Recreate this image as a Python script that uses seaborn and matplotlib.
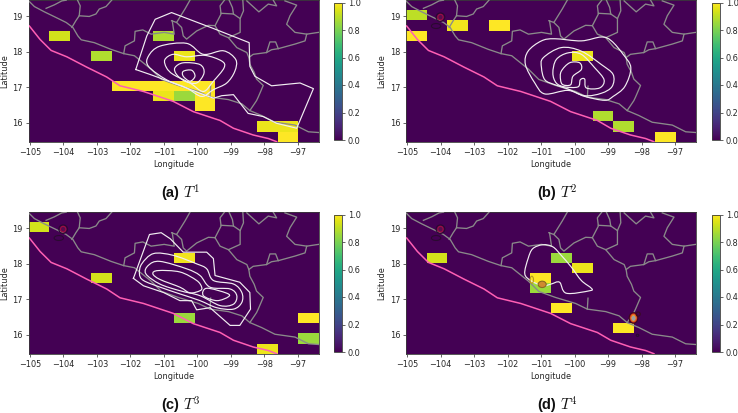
import numpy as np
import matplotlib
matplotlib.use("Agg")
import matplotlib.pyplot as plt
from matplotlib.patches import Ellipse, PathPatch
from matplotlib.path import Path
import seaborn as sns

plt.rcParams["mathtext.fontset"] = "cm"

# Regular model grid over the study area
LON0, DLON = -105.04, 0.62
LAT0, DLAT = 15.46, 0.2857
NCOL, NROW = 14, 14

# Occupied grid cells per period: (column, row, value)
cells_t1 = [(1, 10, .93), (3, 8, .88), (6, 10, .88), (7, 8, .97),
            (4, 5, 1), (5, 5, 1), (6, 5, 1), (7, 5, 1), (8, 5, 1),
            (6, 4, .97), (7, 4, .85), (8, 4, 1), (8, 3, 1),
            (11, 1, .97), (12, 1, .97), (12, 0, 1)]
cells_t2 = [(0, 12, .9), (0, 10, 1), (2, 11, .98), (4, 11, 1), (8, 8, .97),
            (9, 2, .88), (10, 1, .88), (12, 0, 1)]
cells_t3 = [(0, 12, .93), (3, 7, .93), (7, 9, .98), (7, 3, .85),
            (11, 0, .97), (13, 3, 1), (13, 1, .85)]
cells_t4 = [(1, 9, .93), (7, 9, .85), (8, 8, .97), (6, 7, 1), (6, 6, .85),
            (7, 4, 1), (10, 2, 1)]

# Subduction trench
trench = [(-105.02, 18.73), (-104.70, 18.35), (-104.37, 18.04), (-103.90, 17.86),
          (-103.31, 17.57), (-102.71, 17.29), (-102.31, 17.04), (-101.61, 16.88),
          (-100.72, 16.60), (-100.12, 16.31), (-99.32, 16.06), (-98.92, 15.84),
          (-98.33, 15.65), (-97.88, 15.55), (-97.63, 15.46)]

# Coastline and state borders
borders = [
    [(-105.04, 19.44), (-104.87, 19.28), (-104.57, 19.13), (-104.22, 18.97), (-103.92, 18.83),
     (-103.72, 18.69), (-103.57, 18.45), (-103.47, 18.34), (-103.08, 18.26), (-102.58, 18.07),
     (-102.20, 17.95), (-101.88, 17.89), (-101.63, 17.70), (-101.38, 17.51), (-101.23, 17.37),
     (-101.07, 17.22), (-100.57, 17.05), (-99.97, 16.88), (-99.62, 16.72), (-99.07, 16.65),
     (-98.67, 16.53), (-98.43, 16.34), (-98.08, 16.20), (-97.68, 16.01), (-97.08, 15.93),
     (-96.68, 15.74), (-96.38, 15.72)],
    [(-104.52, 19.23), (-104.27, 19.33), (-104.05, 19.44), (-103.92, 19.46)],
    [(-103.58, 19.46), (-103.50, 19.30), (-103.53, 19.02), (-103.63, 18.88), (-103.75, 18.69)],
    [(-103.53, 19.02), (-103.23, 19.0), (-103.03, 19.07), (-102.93, 19.21), (-102.73, 19.28),
     (-102.56, 19.46)],
    [(-102.20, 17.95), (-102.16, 18.17), (-101.88, 18.31), (-101.86, 18.58), (-101.63, 18.62),
     (-101.38, 18.50), (-100.99, 18.55), (-100.69, 18.50), (-100.75, 18.88)],
    [(-100.77, 18.88), (-100.62, 18.83), (-100.37, 19.21), (-100.22, 19.46)],
    [(-100.62, 18.83), (-100.47, 18.69), (-100.42, 18.45), (-100.32, 18.36), (-100.02, 18.59),
     (-99.67, 18.75), (-99.47, 18.74)],
    [(-99.47, 18.74), (-99.29, 19.07), (-99.32, 19.30), (-99.19, 19.46)],
    [(-99.29, 19.09), (-98.92, 19.07), (-98.72, 18.94), (-98.62, 19.16), (-98.64, 19.46)],
    [(-99.05, 19.46), (-98.95, 19.25), (-98.92, 19.07)],
    [(-99.47, 18.74), (-99.32, 18.50), (-99.07, 18.40), (-98.72, 18.55), (-98.72, 18.94)],
    [(-99.07, 18.40), (-98.82, 18.12), (-98.52, 17.98), (-98.46, 17.84), (-98.43, 17.65),
     (-98.30, 17.42), (-98.23, 17.23), (-98.03, 17.05), (-98.18, 16.72), (-98.23, 16.62),
     (-98.43, 16.34)],
    [(-98.46, 17.84), (-98.33, 17.93), (-97.93, 17.98), (-97.83, 18.28), (-97.66, 18.28),
     (-97.58, 18.09), (-97.08, 18.22), (-96.78, 18.31), (-96.73, 18.50), (-96.38, 18.55)],
    [(-97.93, 17.98), (-97.78, 18.06), (-97.58, 18.09)],
    [(-97.38, 19.44), (-97.03, 19.32), (-97.23, 19.02), (-97.33, 18.78), (-97.08, 18.55),
     (-96.73, 18.50)],
    [(-98.52, 19.44), (-98.16, 19.13), (-97.88, 19.35), (-97.63, 19.30), (-97.73, 19.46)],
    [(-99.60, 17.03), (-99.62, 16.72)],
]

# Density isolines per period
contours_t1 = [
    [(-101.84, 17.50), (-101.51, 18.45), (-101.26, 18.92), (-100.77, 19.11), (-99.52, 18.66),
     (-98.45, 18.26), (-98.43, 17.59), (-98.28, 17.31), (-97.78, 17.04), (-96.93, 17.12),
     (-96.53, 16.96), (-97.03, 15.84), (-97.63, 15.98), (-98.03, 16.17), (-98.48, 16.26),
     (-98.92, 16.79), (-99.27, 16.76), (-99.52, 16.69), (-99.92, 16.83), (-100.72, 17.12),
     (-101.41, 17.36), (-101.84, 17.50)],
    [(-101.46, 17.59), (-101.46, 17.88), (-101.12, 18.16), (-100.32, 18.24), (-99.82, 17.93),
     (-99.22, 18.03), (-98.85, 17.78), (-98.88, 17.45), (-99.12, 17.12), (-99.52, 16.93),
     (-99.87, 16.74), (-100.32, 16.98), (-100.92, 17.21), (-101.46, 17.59)],
    [(-100.97, 17.78), (-100.72, 17.93), (-100.32, 17.86), (-99.77, 17.90), (-99.27, 17.74),
     (-99.20, 17.55), (-99.52, 17.17), (-99.82, 16.88), (-100.22, 17.12), (-100.72, 17.36),
     (-100.92, 17.55), (-100.97, 17.78)],
    [(-100.67, 17.55), (-100.42, 17.69), (-99.92, 17.64), (-99.80, 17.40), (-100.02, 17.12),
     (-100.37, 17.17), (-100.62, 17.36), (-100.67, 17.55)],
    [(-100.42, 17.45), (-100.17, 17.48), (-100.07, 17.31), (-100.22, 17.17),
     (-100.42, 17.31), (-100.42, 17.45)],
]
contours_t2 = [
    [(-101.47, 17.64), (-101.39, 18.02), (-100.99, 18.31), (-100.59, 18.37), (-99.80, 18.31),
     (-99.20, 18.42), (-98.90, 18.31), (-98.55, 17.93), (-98.32, 17.55), (-98.50, 17.02),
     (-98.85, 16.74), (-99.10, 16.63), (-99.70, 16.74), (-100.20, 16.91), (-100.89, 16.81),
     (-101.19, 17.12), (-101.47, 17.64)],
    [(-100.99, 17.55), (-100.94, 17.83), (-100.40, 18.12), (-99.80, 18.02), (-99.20, 17.64),
     (-98.85, 17.36), (-98.88, 17.02), (-99.20, 16.83), (-99.70, 16.76), (-100.20, 16.95),
     (-100.59, 17.07), (-100.89, 17.21), (-100.99, 17.55)],
    [(-100.65, 17.40), (-100.55, 17.78), (-100.20, 17.97), (-99.80, 17.93), (-99.40, 17.55),
     (-99.12, 17.21), (-99.25, 16.98), (-99.65, 16.98), (-99.70, 17.23), (-99.83, 17.21),
     (-99.90, 17.01), (-100.30, 17.01), (-100.55, 17.12), (-100.65, 17.40)],
    [(-100.42, 17.21), (-100.40, 17.45), (-100.15, 17.69), (-99.85, 17.69), (-99.80, 17.50),
     (-100.05, 17.31), (-100.12, 17.07), (-100.35, 17.07), (-100.42, 17.21)],
]
contours_t3 = [
    [(-101.91, 17.59), (-101.43, 18.83), (-101.08, 18.88), (-100.81, 18.71), (-100.42, 18.33),
     (-99.72, 18.33), (-99.52, 18.15), (-99.47, 17.67), (-98.73, 17.48), (-98.43, 17.19),
     (-98.41, 16.72), (-98.73, 16.26), (-99.02, 16.26), (-99.62, 16.76), (-100.02, 16.70),
     (-100.17, 16.96), (-100.52, 16.96), (-101.01, 17.19), (-101.61, 17.38), (-101.91, 17.59)],
    [(-101.73, 17.72), (-101.66, 18.0), (-101.31, 18.29), (-100.72, 18.24), (-100.02, 18.0),
     (-99.72, 17.86), (-99.52, 17.53), (-98.92, 17.43), (-98.67, 17.19), (-98.67, 16.91),
     (-98.92, 16.72), (-99.42, 16.76), (-99.92, 16.96), (-100.52, 17.15), (-101.11, 17.34),
     (-101.61, 17.53), (-101.73, 17.72)],
    [(-101.54, 17.72), (-101.46, 17.96), (-101.12, 18.07), (-100.32, 17.86), (-99.92, 17.67),
     (-99.62, 17.34), (-99.02, 17.29), (-98.82, 17.10), (-98.92, 16.86), (-99.32, 16.82),
     (-99.92, 17.10), (-100.52, 17.24), (-101.12, 17.43), (-101.54, 17.72)],
    [(-101.33, 17.72), (-101.17, 17.81), (-100.52, 17.77), (-100.02, 17.53), (-99.87, 17.34),
     (-99.92, 17.24), (-100.22, 17.18), (-100.52, 17.34), (-101.12, 17.56), (-101.33, 17.72)],
    [(-99.72, 17.31), (-99.12, 17.17), (-99.07, 17.07), (-99.42, 16.96),
     (-99.82, 17.10), (-99.72, 17.31)],
]
contours_t4 = [
    [(-101.49, 17.72), (-101.39, 18.15), (-101.25, 18.43), (-100.95, 18.54), (-100.65, 18.48),
     (-100.40, 18.24), (-100.10, 17.91), (-99.80, 17.53), (-99.50, 17.31), (-99.55, 17.24),
     (-100.25, 17.17), (-100.45, 17.48), (-100.70, 17.43), (-100.95, 17.38), (-101.30, 17.52),
     (-101.49, 17.72)],
]

# Small hot spots: (lon, lat, lon radius, lat radius, edge colour, face colour)
spot_colima = [(-104.01, 18.98, .13, .12, "#2a0a30", "none"),
               (-104.01, 18.98, .08, .08, "#a01040", "#5a0a50"),
               (-104.14, 18.73, .14, .07, "#2a0a30", "none")]
spots_t4 = spot_colima + [
    (-101.28, 17.55, .05, .10, "#b59a20", "none"),
    (-100.97, 17.42, .12, .09, "#8a6a20", "#d08a30"),
    (-98.24, 16.47, .13, .15, "#3a0a20", "#c01818"),
    (-98.24, 16.47, .08, .10, "#e06a20", "#e8a040"),
    (-98.24, 16.46, .04, .05, "#9aa0a8", "#9aa0a8"),
    (-98.10, 16.58, .06, .06, "#3a0a20", "none"),
    (-98.12, 15.98, .04, .03, "#2a0a30", "none"),
]

# Panels: letter, period, cells, isolines, whether the outer isoline is angular,
# hot spots, axes left, axes top, colour bar left (all in pixels)
panels = [
    ("a", "1", cells_t1, contours_t1, True, [], 28.7, 0.2, 333.7),
    ("b", "2", cells_t2, contours_t2, False, spot_colima, 406.0, 0.2, 711.7),
    ("c", "3", cells_t3, contours_t3, True, spot_colima, 28.7, 212.2, 333.7),
    ("d", "4", cells_t4, contours_t4, False, spots_t4, 406.0, 212.2, 711.7),
]

lon_ticks = [-105, -104, -103, -102, -101, -100, -99, -98, -97]
lat_ticks = [16, 17, 18, 19]

W, H = 738, 413
FS = 5.9
EDGE = "#3a3a3a"


def gx(lon):
    return (np.asarray(lon) - LON0) / DLON


def gy(lat):
    return (np.asarray(lat) - LAT0) / DLAT


def draw_line(ax, pts, **kw):
    arr = np.array(pts)
    ax.plot(gx(arr[:, 0]), gy(arr[:, 1]), **kw)


def draw_loop(ax, pts, **kw):
    """Draw a closed isoline as a Catmull-Rom curve through its vertices."""
    arr = np.array(pts)[:-1]
    p = np.column_stack([gx(arr[:, 0]), gy(arr[:, 1])])
    n = len(p)
    verts = [p[0]]
    codes = [Path.MOVETO]
    for i in range(n):
        p0, p1, p2, p3 = p[i - 1], p[i], p[(i + 1) % n], p[(i + 2) % n]
        verts += [p1 + (p2 - p0) / 6, p2 - (p3 - p1) / 6, p2]
        codes += [Path.CURVE4] * 3
    ax.add_patch(PathPatch(Path(verts, codes), facecolor="none", **kw))


fig = plt.figure(figsize=(W / 100, H / 100), dpi=100)

for letter, power, cells, contours, angular, spots, left, top, cleft in panels:
    ax = fig.add_axes([left / W, 1 - (top + 141.5) / H, 290.4 / W, 141.5 / H])
    cax = fig.add_axes([cleft / W, 1 - (top + 139.8) / H, 8.3 / W, 137.5 / H])

    grid = np.zeros((NROW, NCOL))
    for col, row, val in cells:
        grid[row, col] = val

    sns.heatmap(grid, ax=ax, cbar_ax=cax, cmap="viridis", vmin=0, vmax=1,
                xticklabels=False, yticklabels=False)
    ax.set_xlim(0, NCOL)
    ax.set_ylim(0, NROW)

    for line in borders:
        draw_line(ax, line, color="#8a8a8a", lw=0.95, zorder=3)
    draw_line(ax, trench, color="#ff5fb4", lw=1.1, zorder=4)
    for i, line in enumerate(contours):
        if angular and i == 0:
            draw_line(ax, line, color="#f2eef2", lw=0.85, zorder=5)
        else:
            draw_loop(ax, line, edgecolor="#f2eef2", lw=0.85, zorder=5)
    for lon, lat, rx, ry, ec, fc in spots:
        ax.add_patch(Ellipse((gx(lon), gy(lat)), 2 * rx / DLON, 2 * ry / DLAT,
                             edgecolor=ec, facecolor=fc, lw=0.8, zorder=6))

    ax.set_xticks(gx(lon_ticks))
    ax.set_xticklabels([f"\u2212{abs(v)}" for v in lon_ticks], rotation=0)
    ax.set_yticks(gy(lat_ticks))
    ax.set_yticklabels([str(v) for v in lat_ticks], rotation=0)
    ax.tick_params(labelsize=FS, length=2.2, width=0.5, pad=2, colors="#262626")
    ax.set_xlabel("Longitude", fontsize=FS, labelpad=2.5, color="#262626")
    ax.set_ylabel("Latitude", fontsize=FS, labelpad=2.5, color="#262626")
    for spine in ax.spines.values():
        spine.set_visible(True)
        spine.set_linewidth(0.6)
        spine.set_edgecolor(EDGE)

    cb = ax.collections[0].colorbar
    cb.set_ticks([0, .2, .4, .6, .8, 1])
    cb.ax.tick_params(labelsize=FS, length=2.2, width=0.5, pad=2, colors="#262626")
    cb.outline.set_visible(True)
    cb.outline.set_linewidth(0.6)
    cb.outline.set_edgecolor(EDGE)

    fig.text((left + 150.5) / W, 1 - (top + 193) / H, f"({letter})",
             family="Liberation Sans", fontweight="bold", fontsize=10.5,
             ha="right", va="center", color="#111111")
    fig.text((left + 154) / W, 1 - (top + 192) / H, rf"$T^{power}$",
             fontsize=11, ha="left", va="center", color="#111111")

fig.savefig("out.png", dpi=100)
